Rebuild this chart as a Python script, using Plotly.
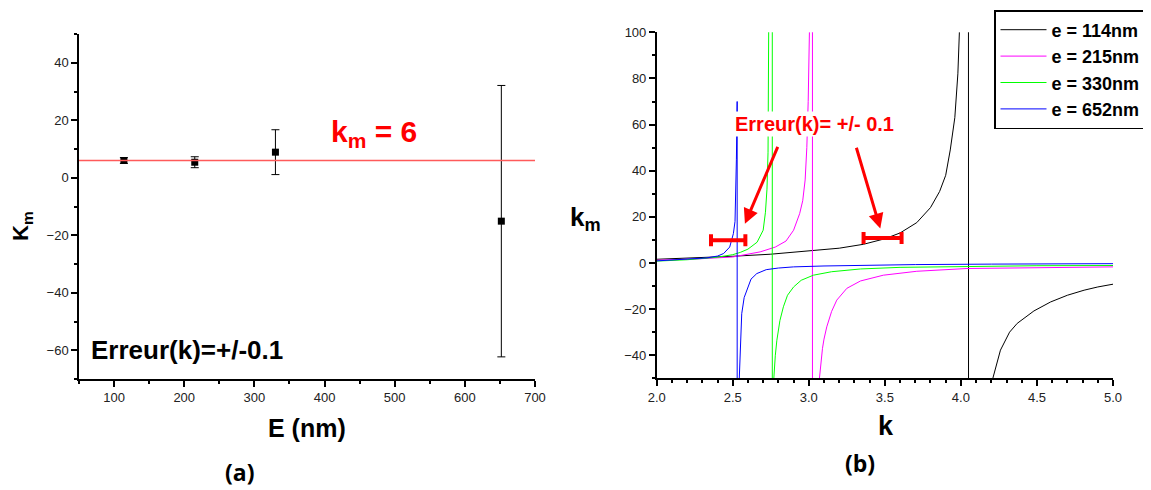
import plotly.graph_objects as go

# page body has an 8px margin: the figure is placed at (8, 8); anything past the window is hidden
OFF = 8
W, H = 1151 - OFF, 490 - OFF

# ---------------- Panel (a) data ----------------
thickness_nm = [114, 215, 330, 652]
km_values = [6.0, 5.4, 8.9, -15.1]
km_errors = [1.0, 1.9, 7.8, 47.2]
km_fit = 6

# ---------------- Panel (b) data ----------------
series_names = ["e = 114nm", "e = 215nm", "e = 330nm", "e = 652nm"]
series_colors = ["#000000", "#ff00ff", "#00ff00", "#0000ff"]

k_114 = [2.0, 2.25, 2.5, 2.75, 3.0, 3.2, 3.36, 3.5, 3.6, 3.71, 3.8, 3.86, 3.9, 3.93, 3.96, 3.98, 3.99,
         4.01, 4.03, 4.045, 4.055, 4.08, 4.12, 4.16, 4.21, 4.26, 4.32, 4.37, 4.48, 4.59, 4.7, 4.81, 4.9, 5.0]
km_114 = [1.6, 2.1, 2.9, 3.8, 5.1, 6.4, 8.1, 10.5, 13.0, 17.5, 24.0, 31.0, 38.0, 49.0, 63.0, 82.0, 100.0,
          160.0, 350.0, 2000.0, -2000.0, -300.0, -110.0, -70.0, -50.0, -37.8, -30.0, -26.2, -20.8, -16.9,
          -14.0, -11.8, -10.4, -9.2]

k_215 = [2.0, 2.25, 2.5, 2.68, 2.78, 2.85, 2.9, 2.94, 2.96, 2.976, 2.987, 2.996, 3.004, 3.012, 3.022,
         3.026, 3.04, 3.055, 3.07, 3.08, 3.09, 3.10, 3.118, 3.15, 3.184, 3.25, 3.34, 3.49, 3.71, 4.04, 4.5, 5.0]
km_215 = [1.2, 1.7, 2.6, 4.8, 6.9, 9.5, 14.2, 21.4, 27.0, 36.0, 50.0, 70.0, 100.0, 180.0, 3000.0,
          -3000.0, -300.0, -90.0, -50.0, -42.0, -37.0, -33.0, -27.7, -21.0, -16.1, -11.0, -7.8, -5.3,
          -3.6, -2.4, -2.0, -1.7]

k_330 = [2.0, 2.2, 2.4, 2.5, 2.55, 2.6, 2.66, 2.70, 2.715, 2.725, 2.732, 2.736, 2.739, 2.748, 2.758,
         2.762, 2.766, 2.77, 2.78, 2.79, 2.81, 2.833, 2.86, 2.9, 2.95, 3.03, 3.15, 3.34, 3.6, 4.0, 4.5, 5.0]
km_330 = [0.8, 1.4, 2.5, 3.6, 4.6, 6.0, 9.0, 14.2, 22.0, 32.0, 48.0, 75.0, 100.0, 250.0, 3000.0,
          -3000.0, -150.0, -50.0, -40.0, -33.5, -25.0, -19.0, -14.0, -10.4, -7.5, -5.3, -3.8, -2.6,
          -1.9, -1.5, -1.2, -1.1]

k_652 = [2.0, 2.2, 2.33, 2.4, 2.44, 2.48, 2.504, 2.515, 2.52, 2.524, 2.527, 2.529, 2.531, 2.536, 2.543,
         2.55, 2.559, 2.575, 2.592, 2.62, 2.658, 2.72, 2.8, 2.9, 3.1, 3.34, 3.7, 4.2, 5.0]
km_652 = [0.9, 1.6, 2.2, 3.0, 4.1, 6.9, 12.7, 18.0, 30.0, 45.0, 60.0, 70.0, -3000.0, -300.0, -50.0,
          -36.0, -22.0, -15.0, -11.8, -7.0, -4.6, -2.9, -2.2, -1.7, -1.3, -1.0, -0.7, -0.5, -0.3]

# red "error in k" bars drawn on panel (b)
err_k_center = [2.47, 3.485]
err_km_level = [9.8, 10.8]
err_k_half = [0.113, 0.125]

# arrows (tail -> head) in panel (b) data units
arrow_tail_k = [2.80, 3.31]
arrow_tail_km = [51.0, 50.6]
arrow_head_k = [2.58, 3.47]
arrow_head_km = [17.0, 14.9]

FONT = "Liberation Sans, Arial, sans-serif"


def px(x):
    return (x - OFF) / W


def py(y):
    return 1 - (y - OFF) / H


fig = go.Figure()

# ---- panel (a)
fig.add_trace(go.Scatter(
    x=thickness_nm, y=km_values, mode="markers",
    marker=dict(symbol="square", size=7, color="black"),
    error_y=dict(type="data", array=km_errors, visible=True, color="black", thickness=1, width=4),
    xaxis="x", yaxis="y", showlegend=False))

# ---- panel (b)
for kk, vv, name, col in zip([k_114, k_215, k_330, k_652], [km_114, km_215, km_330, km_652],
                             series_names, series_colors):
    fig.add_trace(go.Scatter(x=kk, y=vv, mode="lines", name=name,
                             line=dict(color=col, width=1), xaxis="x2", yaxis="y2"))

fig.add_trace(go.Scatter(
    x=err_k_center, y=err_km_level, mode="markers",
    marker=dict(size=1, color="rgba(0,0,0,0)"),
    error_x=dict(type="data", array=err_k_half, visible=True, color="#ff0000", thickness=4, width=6),
    xaxis="x2", yaxis="y2", showlegend=False, hoverinfo="skip"))

axis_common = dict(showgrid=False, zeroline=False, showline=True, linecolor="black", linewidth=1.5,
                   ticks="outside", ticklen=6, tickwidth=1.5, tickcolor="black",
                   tickfont=dict(family=FONT, size=13, color="#222222"), automargin=False,
                   mirror=False)
minor_common = dict(ticklen=3, tickwidth=1.5, tickcolor="black", ticks="outside")

fig.update_layout(
    template="none",
    width=W, height=H,
    margin=dict(l=0, r=0, t=0, b=0, autoexpand=False),
    paper_bgcolor="white", plot_bgcolor="white",
    xaxis=dict(domain=[px(79), px(535)], range=[50, 700], dtick=100, tick0=0, anchor="y",
               minor=dict(dtick=50, **minor_common), **axis_common),
    yaxis=dict(domain=[py(379), py(34)], range=[-70, 50], dtick=20, tick0=0, anchor="x",
               minor=dict(dtick=10, **minor_common), **axis_common),
    xaxis2=dict(domain=[px(656.7), px(1113)], range=[2, 5], dtick=0.5, tick0=2, tickformat=".1f",
                anchor="y2", minor=dict(dtick=0.1, **minor_common), **axis_common),
    yaxis2=dict(domain=[py(378.3), py(32.3)], range=[-50, 100], dtick=20, tick0=0, anchor="x2",
                minor=dict(dtick=10, **minor_common), **axis_common),
    legend=dict(x=px(994), y=py(10), xanchor="left", yanchor="top",
                bordercolor="black", borderwidth=1.5, bgcolor="white",
                font=dict(family=FONT, size=18, color="black", weight="bold"),
                itemwidth=46, tracegroupgap=0),
    shapes=[dict(type="line", xref="x domain", yref="y", x0=0, x1=1, y0=km_fit, y1=km_fit,
                 line=dict(color="#ff5a5a", width=1.5))],
)

annotations = [
    # panel (a)
    dict(text="<b>k<sub>m</sub> = %d</b>" % km_fit, x=px(373.5), y=py(134), font=dict(size=30, color="#ff0000")),
    dict(text="<b>Erreur(k)=+/-0.1</b>", x=px(186.7), y=py(350), font=dict(size=26, color="black")),
    dict(text="<b>E (nm)</b>", x=px(306.7), y=py(428), font=dict(size=25, color="black")),
    dict(text="<b>K<sub>m</sub></b>", x=px(22), y=py(226), textangle=-90, font=dict(size=22, color="black")),
    dict(text="<b>(a)</b>", x=px(239), y=py(472), font=dict(size=23, color="black", family="Open Sans")),
    # panel (b)
    dict(text="<b>k<sub>m</sub></b>", x=px(585), y=py(218), font=dict(size=26, color="black")),
    dict(text="<b>k</b>", x=px(885.5), y=py(426), font=dict(size=27, color="black")),
    dict(text="<b>(b)</b>", x=px(859.5), y=py(463), font=dict(size=23, color="black", family="Open Sans")),
    dict(text="<b>Erreur(k)= +/- 0.1</b>", x=px(814), y=py(124), bgcolor="white",
         font=dict(size=20, color="#ff0000")),
]
for a in annotations:
    a["xref"] = "paper"
    a["yref"] = "paper"
    a["showarrow"] = False
    a["xanchor"] = "center"
    a["yanchor"] = "middle"
    a["font"].setdefault("family", FONT)

for tk, tv, hk, hv in zip(arrow_tail_k, arrow_tail_km, arrow_head_k, arrow_head_km):
    annotations.append(dict(text="", xref="x2", yref="y2", axref="x2", ayref="y2",
                            x=hk, y=hv, ax=tk, ay=tv, showarrow=True,
                            arrowcolor="#ff0000", arrowwidth=3, arrowhead=2, arrowsize=1))

fig.update_layout(annotations=annotations)

fig.write_html("out.html")
